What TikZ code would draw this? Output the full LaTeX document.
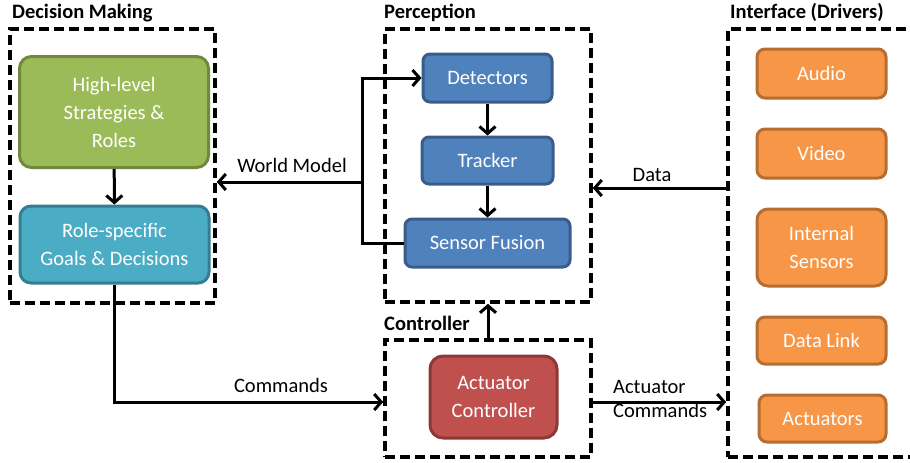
\documentclass[tikz,border=0pt]{standalone}
\usepackage{fontspec}
\setmainfont{Carlito}
\usetikzlibrary{arrows.meta,calc}
\definecolor{grnF}{HTML}{9BBB59}\definecolor{grnD}{HTML}{71893F}
\definecolor{aquF}{HTML}{4BACC6}\definecolor{aquD}{HTML}{357D91}
\definecolor{bluF}{HTML}{4F81BD}\definecolor{bluD}{HTML}{385D8A}
\definecolor{orgF}{HTML}{F79646}\definecolor{orgD}{HTML}{B66D31}
\definecolor{redF}{HTML}{C0504D}\definecolor{redD}{HTML}{8C3836}
\tikzset{
  txt/.style={font=\fontsize{20.5}{28}\selectfont},
  blk/.style={txt, draw=#1D, fill=#1F, text=white, line width=3pt, rounded corners=9pt,
    inner sep=0pt, align=center},
  grp/.style={draw=black, line width=3.6pt, dash pattern=on 10pt off 5pt, inner sep=0pt},
  ttl/.style={txt, font=\fontsize{20.5}{28}\selectfont\bfseries, anchor=base west, inner sep=0pt},
  lbl/.style={txt, inner sep=0pt, anchor=base},
  arr/.style={line width=3pt, -{Straight Barb[length=7pt,width=16pt,line width=3pt]}},
}
\begin{document}
\begin{tikzpicture}[x=1pt,y=-1pt]
\useasboundingbox (0,0) rectangle (910,463);

% group frames
\node[grp, minimum width=205, minimum height=274] (dm)  at (112.5,166) {};
\node[grp, minimum width=206, minimum height=273] (per) at (488,165.5) {};
\node[grp, minimum width=190, minimum height=428] (ifc) at (823,243) {};
\node[grp, minimum width=206, minimum height=117] (ctl) at (488,398.5) {};

% group titles
\node[ttl] (tdm)  at (12,19)  {Decision Making};
\node[ttl] (tper) at (384,19) {Perception};
\node[ttl] (tifc) at (730,19) {Interface (Drivers)};
\node[ttl] (tctl) at (384,330) {Controller};

% decision making
\node[blk=grn, rounded corners=12pt, minimum width=189, minimum height=111] (hl) at (114,112)
  {High-level\\Strategies \&\\Roles};
\node[blk=aqu, rounded corners=11pt, minimum width=189, minimum height=77] (rs) at (114.5,244.5)
  {Role-specific\\Goals \& Decisions};

% perception
\node[blk=blu, rounded corners=7pt, minimum width=129, minimum height=48] (det) at (487.5,78) {Detectors};
\node[blk=blu, rounded corners=7pt, minimum width=131, minimum height=47] (trk) at (487.5,160.5) {Tracker};
\node[blk=blu, rounded corners=7pt, minimum width=165, minimum height=48] (sf)  at (487.5,243) {Sensor Fusion};

% interface drivers
\node[blk=org, rounded corners=8pt, minimum width=129, minimum height=49] (aud) at (821.5,73.5) {Audio};
\node[blk=org, rounded corners=8pt, minimum width=129, minimum height=49] (vid) at (821.5,153.5) {Video};
\node[blk=org, rounded corners=11pt, minimum width=129, minimum height=77] (ins) at (821.5,247.5) {Internal\\Sensors};
\node[blk=org, rounded corners=8pt, minimum width=129, minimum height=47] (dl)  at (821.5,340.5) {Data Link};
\node[blk=org, rounded corners=8pt, minimum width=127, minimum height=47] (act) at (822.5,418.5) {Actuators};

% controller
\node[blk=red, rounded corners=13pt, minimum width=127, minimum height=82] (ac) at (493.5,397)
  {Actuator\\Controller};

% helper coordinates for connector rows
\coordinate (wm) at (362,182);
\coordinate (drow) at (0,188);
\coordinate (crow) at (0,402);

% connectors
\draw[arr] (hl) -- (rs);
\draw[arr] (det) -- (trk);
\draw[arr] (trk) -- (sf);
\draw[arr] (sf.west) -| (wm) |- (det.west);
\draw[arr] (wm) -- (wm -| dm.east);
\draw[arr] (ifc.west |- drow) -- (per.east |- drow);
\draw[arr] (ctl.north) -- (per.south);
\draw[arr] (rs.south) |- (ctl.west |- crow);
\draw[arr] (ctl.east |- crow) -- (ifc.west |- crow);

% connector labels
\node[lbl] (lwm) at (292,172) {World Model};
\node[lbl] (ldat) at (652,181) {Data};
\node[lbl] (lcmd) at (281,392) {Commands};
\node[lbl, anchor=base west] (lac1) at (613,393) {Actuator};
\node[lbl, anchor=base west] (lac2) at (613,417) {Commands};
\end{tikzpicture}
\end{document}
